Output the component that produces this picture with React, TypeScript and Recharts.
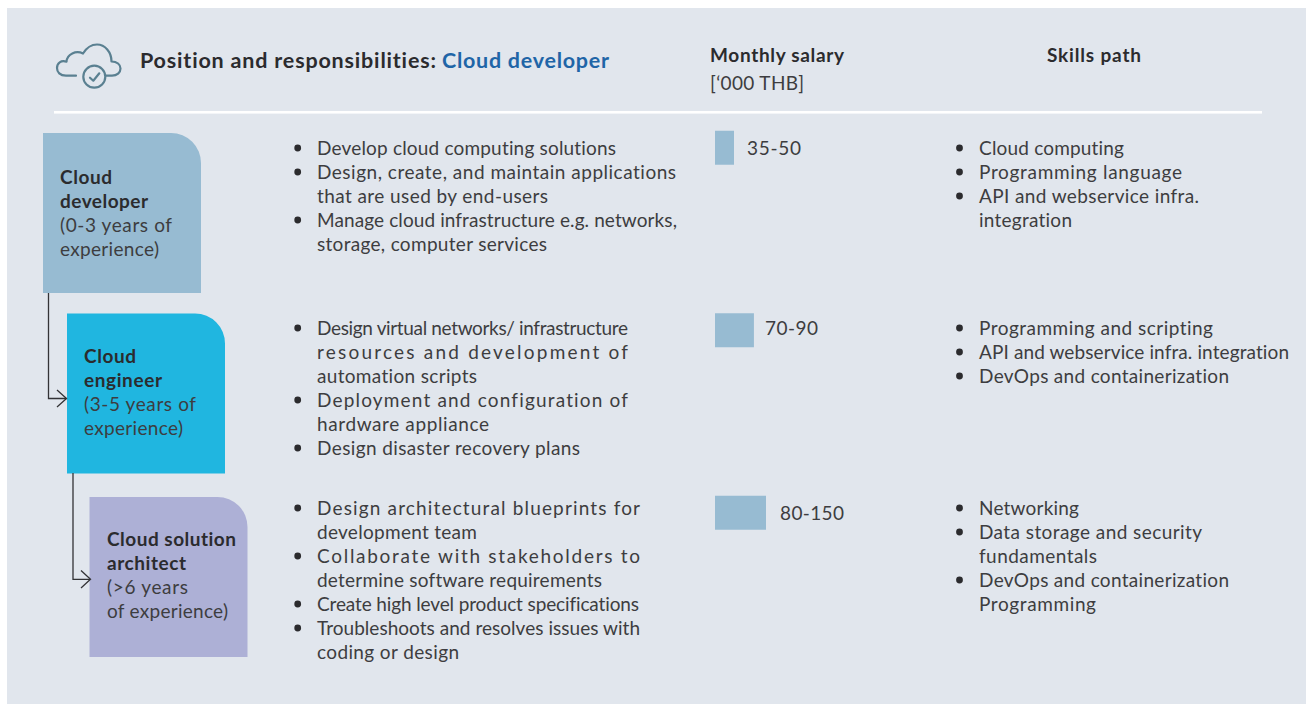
import React from "react";
import { BarChart, Bar, XAxis, YAxis, LabelList, Cell } from "recharts";

// Salary data (midpoint-like reading of bar length, '000 THB)
const roles = ["Cloud developer", "Cloud engineer", "Cloud solution architect"];
const salaryBars = [42.5, 87, 114];
const salaryLabels = ["35-50", "70-90", "80-150"];
const chartData = roles.map((role, i) => ({ role, salary: salaryBars[i], label: salaryLabels[i] }));

const FONT = "Lato, 'Noto Sans', sans-serif";
const INK = "#3d3d40";
const DARK = "#2b2b2e";
const BAR = "#97bbd2";
const NOLIG: React.CSSProperties = { fontVariantLigatures: "none" };

type Line = [string, number, number]; // text, right edge, centre y

const respLines: Line[] = [
  ["Develop cloud computing solutions", 616, 148],
  ["Design, create, and maintain applications", 676, 172],
  ["that are used by end-users", 548, 196],
  ["Manage cloud infrastructure e.g. networks,", 677, 220],
  ["storage, computer services", 547, 244],
  ["Design virtual networks/ infrastructure", 628, 328],
  ["resources and development of", 628, 352],
  ["automation scripts", 477, 376],
  ["Deployment and configuration of", 628, 400],
  ["hardware appliance", 489, 424],
  ["Design disaster recovery plans", 580, 448],
  ["Design architectural blueprints for", 640, 508],
  ["development team", 477, 532],
  ["Collaborate with stakeholders to", 640, 556],
  ["determine software requirements", 602, 580],
  ["Create high level product specifications", 639, 604],
  ["Troubleshoots and resolves issues with", 640, 628],
  ["coding or design", 459, 652],
];
const respBullets = [148, 172, 220, 328, 400, 448, 508, 556, 604, 628];

const skillLines: Line[] = [
  ["Cloud computing", 1124, 148],
  ["Programming language", 1182, 172],
  ["API and webservice infra.", 1199, 196],
  ["integration", 1072, 220],
  ["Programming and scripting", 1213, 328],
  ["API and webservice infra. integration", 1289, 352],
  ["DevOps and containerization", 1229, 376],
  ["Networking", 1079, 508],
  ["Data storage and security", 1202, 532],
  ["fundamentals", 1097, 556],
  ["DevOps and containerization", 1229, 580],
  ["Programming", 1096, 604],
];
const skillBullets = [148, 172, 196, 328, 352, 376, 508, 532, 580];

const roleBoxes = [
  {
    x: 43, y: 133, fill: "#97bbd2", textX: 60,
    bold: [["Cloud", 112, 177], ["developer", 148, 201]] as Line[],
    plain: [["(0-3 years of", 172, 225], ["experience)", 159, 249]] as Line[],
  },
  {
    x: 67, y: 313.5, fill: "#20b6e0", textX: 84,
    bold: [["Cloud", 136, 356], ["engineer", 162, 380]] as Line[],
    plain: [["(3-5 years of", 196, 404], ["experience)", 183, 428]] as Line[],
  },
  {
    x: 89.5, y: 497, fill: "#adb0d6", textX: 107,
    bold: [["Cloud solution", 236, 539], ["architect", 186, 563]] as Line[],
    plain: [["(>6 years", 188, 587], ["of experience)", 228, 611]] as Line[],
  },
];

const T = ({ x, line, weight = 400, fill = INK, size = 19 }: { x: number; line: Line; weight?: number; fill?: string; size?: number }) => (
  <text
    x={x}
    y={line[2] + 7}
    textLength={line[1] - x}
    lengthAdjust="spacing"
    fontFamily={FONT}
    fontSize={size}
    fontWeight={weight}
    fill={fill}
    style={NOLIG}
  >
    {line[0]}
  </text>
);

const BarLabel = (props: any) => {
  const { x, y, width, height, value, index } = props;
  const gap = [13, 11, 14][index];
  const lift = [0, -2, 0][index];
  const w = [54, 53, 64][index];
  return (
    <text
      x={x + width + gap}
      y={y + height / 2 + 7 + lift}
      textLength={w}
      lengthAdjust="spacing"
      fontFamily={FONT}
      fontSize={19}
      fill={INK}
    >
      {value}
    </text>
  );
};

const Backdrop = () => (
  <svg width={1306} height={704} style={{ position: "absolute", left: 0, top: 0 }}>
    <rect x={7} y={8} width={1299} height={696} fill="#e1e6ed" />

    {/* cloud icon */}
    <g fill="none" stroke="#5a8091" strokeWidth={2.2} strokeLinecap="round" strokeLinejoin="round">
      <path d="M76 75.7 H66 C60 75.7 57 72 57 68 C57 63 61 60 66.5 61.7 C67 54 76 50 83 53.5 C87 47 92 44.5 97 44.5 C105 44.5 111.5 52 111.5 61.5 C117 61.5 120.5 64.5 120.5 68.5 C120.5 72.5 117 75.7 112 75.7 H106" />
      <circle cx={94.3} cy={76.7} r={11} />
      <path d="M90 77.7 L93.3 80.7 L99.3 73.3" />
    </g>

    {/* header */}
    <text x={140} y={68} textLength={296} lengthAdjust="spacing" fontFamily={FONT} fontSize={21.5} fontWeight={700} fill={DARK} style={NOLIG}>
      Position and responsibilities:
    </text>
    <text x={442} y={68} textLength={167} lengthAdjust="spacing" fontFamily={FONT} fontSize={21.5} fontWeight={700} fill="#1f65a7" style={NOLIG}>
      Cloud developer
    </text>
    <T x={710} line={["Monthly salary", 844, 55]} weight={700} fill={DARK} />
    <T x={710} line={["[‘000 THB]", 804, 83]} />
    <T x={1047} line={["Skills path", 1141, 55]} weight={700} fill={DARK} />
    <rect x={54} y={111} width={1208} height={2.6} fill="#ffffff" />

    {/* role boxes */}
    {roleBoxes.map((b) => (
      <g key={b.x}>
        <path
          d={`M${b.x} ${b.y} H${b.x + 128} A30 30 0 0 1 ${b.x + 158} ${b.y + 30} V${b.y + 160} H${b.x} Z`}
          fill={b.fill}
        />
        {b.bold.map((l) => <T key={l[0]} x={b.textX} line={l} weight={700} fill={DARK} />)}
        {b.plain.map((l) => <T key={l[0]} x={b.textX} line={l} />)}
      </g>
    ))}

    {/* connectors */}
    <g fill="none" stroke="#333336" strokeWidth={1.3}>
      <path d="M48.5 293 V398.5 H66.5" />
      <path d="M57 390 L66.5 398.5 L57 407" />
      <path d="M73 473 V579.3 H90" />
      <path d="M81 570.5 L90.5 579.3 L81 588" />
    </g>

    {/* responsibilities and skills */}
    {respBullets.map((y) => <circle key={y} cx={297.7} cy={y} r={3.4} fill={DARK} />)}
    {respLines.map((l) => <T key={l[0]} x={317} line={l} />)}
    {skillBullets.map((y) => <circle key={y} cx={959.5} cy={y} r={3.4} fill={DARK} />)}
    {skillLines.map((l) => <T key={l[0] + l[2]} x={979} line={l} />)}
  </svg>
);

export default function App() {
  return (
    <div style={{ position: "absolute", left: 0, top: 0, width: 1306, height: 704, overflow: "hidden" }}>
      <Backdrop />
      <div style={{ position: "absolute", left: 0, top: 0 }}>
        <BarChart
          width={1306}
          height={704}
          data={chartData}
          layout="vertical"
          barSize={34}
          margin={{ left: 715, right: 523.9, top: 56.75, bottom: 99.75 }}
        >
          <XAxis type="number" hide domain={[0, 150]} />
          <YAxis type="category" hide dataKey="role" />
          <Bar dataKey="salary" isAnimationActive={false}>
            {chartData.map((d) => <Cell key={d.role} fill={BAR} />)}
            <LabelList dataKey="label" content={<BarLabel />} />
          </Bar>
        </BarChart>
      </div>
    </div>
  );
}
